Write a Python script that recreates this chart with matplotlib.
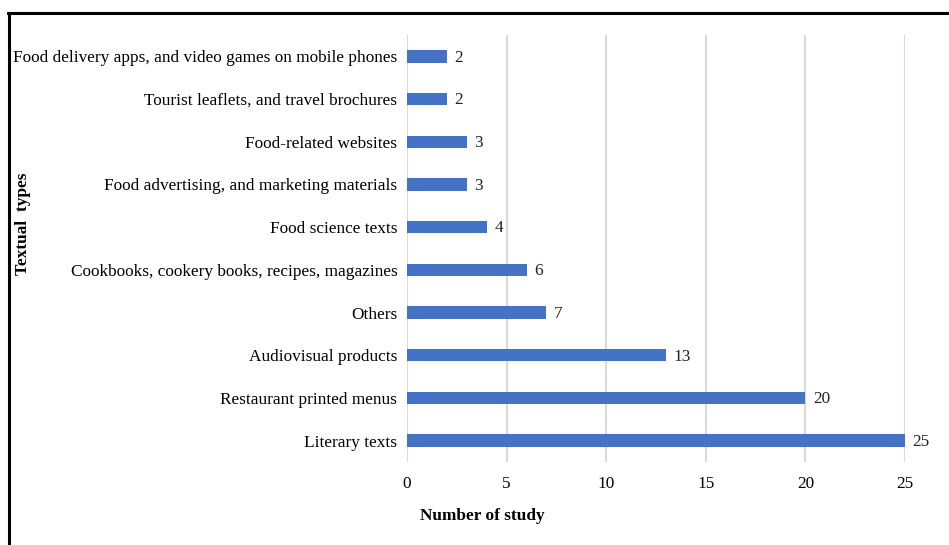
import matplotlib
matplotlib.use("Agg")
import matplotlib.pyplot as plt
from matplotlib.lines import Line2D

categories = [
    "Literary texts",
    "Restaurant printed menus",
    "Audiovisual products",
    "Others",
    "Cookbooks, cookery books, recipes, magazines",
    "Food science texts",
    "Food advertising, and marketing materials",
    "Food-related websites",
    "Tourist leaflets, and travel brochures",
    "Food delivery apps, and video games on mobile phones",
]
values = [25, 20, 13, 7, 6, 4, 3, 3, 2, 2]
xticks = [0, 5, 10, 15, 20, 25]

W, H = 949, 545
fig = plt.figure(figsize=(W / 100, H / 100), dpi=100)
plt.rcParams['font.family'] = ['Liberation Serif', 'DejaVu Serif']
FS = 12.4

left, right, top, bottom = 407, 905, 35, 462
ax = fig.add_axes([left / W, 1 - bottom / H, (right - left) / W, (bottom - top) / H])

ypos = list(range(len(categories)))
ax.barh(ypos, values, height=0.29, color="#4472C4", zorder=3)
for y, v in zip(ypos, values):
    ax.text(v + 0.38, y - 0.03, str(v), va="center", ha="left", fontsize=FS, color="#222222")

ax.set_xlim(0, 25)
ax.set_ylim(-0.5, len(categories) - 0.5)
ax.set_yticks(ypos)
ax.set_yticklabels(categories, fontsize=FS)
ax.set_xticks(xticks)
ax.set_xticklabels([str(t) for t in xticks], fontsize=FS)
ax.tick_params(axis="y", length=0, pad=7)
ax.tick_params(axis="x", length=0, pad=10)
for s in ax.spines.values():
    s.set_visible(False)
ax.grid(axis="x", color="#D9D9D9", linewidth=1.5, zorder=0)
ax.set_axisbelow(True)

fig.text(482 / W, 1 - 516 / H, "Number of study", ha="center", va="center",
         fontsize=FS, fontweight="bold")
fig.text(23 / W, 1 - 224 / H, "Textual  types", ha="center", va="center",
         rotation=90, fontsize=FS, fontweight="bold")

# frame lines
fig.add_artist(Line2D([8 / W, 1.0], [1 - 13 / H, 1 - 13 / H], color="black", linewidth=2.2))
fig.add_artist(Line2D([8.5 / W, 8.5 / W], [0, 1 - 13 / H], color="black", linewidth=2.2))

fig.savefig("out.png", dpi=100)
